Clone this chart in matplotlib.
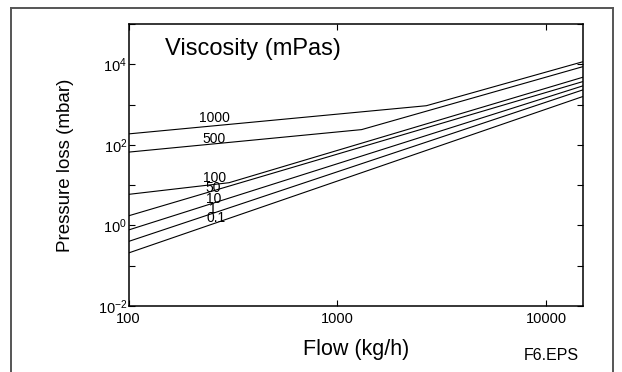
import numpy as np
import matplotlib
matplotlib.use("Agg")
import matplotlib.pyplot as plt
from matplotlib.lines import Line2D

plt.rcParams['font.family'] = ['Liberation Sans', 'DejaVu Sans']
plt.rcParams['mathtext.fontset'] = 'custom'
plt.rcParams['mathtext.rm'] = 'Liberation Sans'
plt.rcParams['mathtext.it'] = 'Liberation Sans'

# flow (kg/h) and pressure loss (mbar) per viscosity (mPas)
visc_names = ["1000", "500", "100", "50", "10", "1", "0.1"]
flow_1000 = [100, 2666, 15000]
dp_1000 = [187, 936, 11600]
flow_500 = [100, 1306, 15000]
dp_500 = [66, 239, 8750]
flow_100 = [100, 303, 15000]
dp_100 = [5.9, 11.5, 4780]
flow_50 = [100, 15000]
dp_50 = [1.73, 3730]
flow_10 = [100, 15000]
dp_10 = [0.77, 2920]
flow_1 = [100, 15000]
dp_1 = [0.40, 2320]
flow_01 = [100, 15000]
dp_01 = [0.207, 1590]

# where the curve labels sit
label_x = [257, 257, 257, 255, 257, 253, 262]
label_y = [465, 141, 15.3, 8.3, 4.6, 2.6, 1.52]

x_ticks = [100, 1000, 10000]
x_ticklabels = ["100", "1000", "10000"]
y_ticks = [1e-2, 1e-1, 1e0, 1e1, 1e2, 1e3, 1e4, 1e5]
y_ticklabels = [r"$10^{-2}$", "", r"$10^{0}$", "", r"$10^{2}$", "", r"$10^{4}$", ""]

flows = [flow_1000, flow_500, flow_100, flow_50, flow_10, flow_1, flow_01]
dps = [dp_1000, dp_500, dp_100, dp_50, dp_10, dp_1, dp_01]

fig = plt.figure(figsize=(6.22, 3.72), dpi=100)
ax = fig.add_axes([128.5 / 622, 1 - 306 / 372, (583 - 128.5) / 622, (306 - 24) / 372])

for f, d in zip(flows, dps):
    ax.plot(f, d, color="black", lw=0.8)

for name, lx, ly in zip(visc_names, label_x, label_y):
    ax.text(lx, ly, name, fontsize=10, ha="center", va="center")

ax.set_xscale("log")
ax.set_yscale("log")
ax.set_xlim(100, 15000)
ax.set_ylim(1e-2, 1e5)

ax.set_xticks(x_ticks)
ax.set_xticklabels(x_ticklabels, fontsize=10.5)
ax.set_yticks(y_ticks)
ax.set_yticklabels(y_ticklabels, fontsize=10.5)
ax.minorticks_off()
ax.tick_params(direction="in", length=4, width=0.8, top=True, right=True)
ax.tick_params(axis="x", pad=4)
ax.tick_params(axis="y", pad=1)
for s in ax.spines.values():
    s.set_linewidth(1.1)

ax.text(0.080, 0.91, "Viscosity (mPas)", fontsize=17, ha="left", va="center",
        transform=ax.transAxes)

fig.text(65 / 622, 1 - 165 / 372, "Pressure loss (mbar)", fontsize=13.5,
         rotation=90, ha="center", va="center")
fig.text(356 / 622, 1 - 349 / 372, "Flow (kg/h)", fontsize=15.5,
         ha="center", va="center")
fig.text(551 / 622, 1 - 355 / 372, "F6.EPS", fontsize=11.5, ha="center", va="center")

# outer frame (open at the bottom)
fx0, fx1, fy0 = 11 / 622, 613 / 622, 1 - 8 / 372
frame_col = "#555555"
fig.add_artist(Line2D([fx0, fx0], [0, fy0], color=frame_col, lw=1.4))
fig.add_artist(Line2D([fx0, fx1], [fy0, fy0], color=frame_col, lw=1.4))
fig.add_artist(Line2D([fx1, fx1], [0, fy0], color=frame_col, lw=1.4))

fig.savefig("out.png", dpi=100)
